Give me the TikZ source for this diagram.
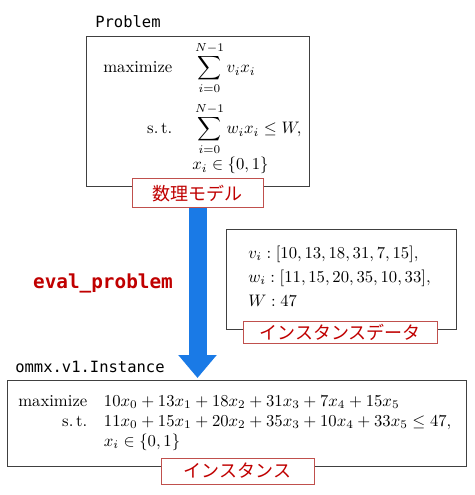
\documentclass[tikz,border=0pt]{standalone}
\usepackage{amsmath}
\usepackage{fontspec}
\setmonofont{DejaVu Sans Mono}
\newfontfamily\jpfont{Noto Sans CJK JP}
\usetikzlibrary{arrows.meta}
\definecolor{labred}{HTML}{C00000}
\definecolor{labborder}{HTML}{C0504D}
\definecolor{arrowblue}{HTML}{1A7AE6}
\definecolor{boxgray}{HTML}{404040}
\begin{document}
\begin{tikzpicture}[x=0.6pt,y=-0.6pt,
  mainbox/.style={draw=boxgray, line width=0.7pt, inner sep=0pt, anchor=north west},
  labbox/.style={draw=labborder, fill=white, line width=0.6pt, text=labred,
    font=\jpfont\fontsize{10.8}{13}\selectfont, inner sep=0pt},
  codelab/.style={font=\ttfamily\fontsize{9.3}{11}\selectfont, anchor=west, inner sep=0pt},
  mathtxt/.style={anchor=west, inner sep=0pt},
]
\useasboundingbox (0,0) rectangle (474,495);
% boxes
\node[mainbox, minimum width=133.8pt, minimum height=90pt] (box1) at (86,36) {};
\node[mainbox, minimum width=138pt, minimum height=60pt] (box2) at (226,229) {};
\node[mainbox, minimum width=275.4pt, minimum height=51.6pt] (box3) at (7,380) {};
% code labels
\node[codelab] (pname) at (95,22) {Problem};
\node[codelab] (iname) at (15,367) {ommx.v1.Instance};
% math contents
\node[mathtxt] (m1) at (103,109) {$\begin{aligned}\text{maximize}\hspace{1.2em}&\sum_{i=0}^{N-1}v_ix_i\\[1.6pt]
\text{s.\,t.}\hspace{1.2em}&\sum_{i=0}^{N-1}w_ix_i\le W,\\[-3.6pt]
&x_i\in\{0,1\}\end{aligned}$};
\node[mathtxt] (m2) at (248,278) {\setlength{\jot}{2.4pt}$\begin{aligned}&v_i:[10,13,18,31,7,15],\\
&w_i:[11,15,20,35,10,33],\\
&W:47\end{aligned}$};
\node[mathtxt] (m3) at (18,422) {\setlength{\jot}{0pt}$\begin{aligned}\text{maximize}\quad&10x_0+13x_1+18x_2+31x_3+7x_4+15x_5\\
\text{s.\,t.}\quad&11x_0+15x_1+20x_2+35x_3+10x_4+33x_5\le 47,\\
&x_i\in\{0,1\}\end{aligned}$};
% red labels
\node[labbox, minimum width=78.6pt, minimum height=17.4pt] (lab1) at (197.5,193.5) {数理モデル};
\node[labbox, minimum width=116.4pt, minimum height=13.2pt] (lab2) at (340,332.5) {インスタンスデータ};
\node[labbox, minimum width=91.8pt, minimum height=15.6pt] (lab3) at (237.5,471) {インスタンス};
% arrow
\draw[arrowblue, line width=10.8pt, -{Triangle[length=13.8pt, width=22.2pt]}, shorten >=1.2pt]
  (lab1.south) -- (lab1.south |- box3.north);
\node[font=\ttfamily\bfseries\fontsize{11.6}{14}\selectfont, text=labred, inner sep=0pt] (evlab) at (103,283) {eval\_problem};
\end{tikzpicture}
\end{document}
